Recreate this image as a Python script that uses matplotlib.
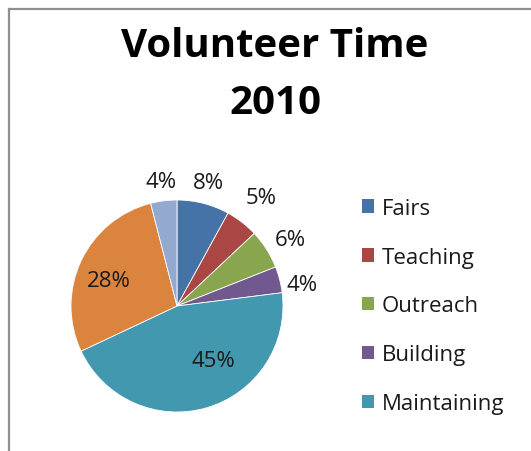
import numpy as np
import matplotlib
matplotlib.use("Agg")
import matplotlib.pyplot as plt
from matplotlib.lines import Line2D
from matplotlib.patches import Patch

# ---- data ----
title_lines = ["Volunteer Time", "2010"]
categories = ["Fairs", "Teaching", "Outreach", "Building", "Maintaining", "Other A", "Other B"]
shares = [8, 5, 6, 4, 45, 28, 4]
legend_shown = 5                     # only the first five fit in the legend box
colors = ["#4572A7", "#AA4643", "#89A54E", "#71588F", "#4198AF", "#DB843D", "#93A9CF"]
label_r = [1.2, 1.3, 1.24, 1.2, 0.62, 0.69, 1.18]    # label distance per slice
label_dang = [0, 0, -2, -4.5, 17, 5, 0]              # label angle nudge (deg)

W, H = 531, 452
fig = plt.figure(figsize=(W / 100, H / 100), dpi=100)
plt.rcParams["font.family"] = ["Open Sans", "DejaVu Sans"]

# chart-area border (left + top visible)
fig.add_artist(Line2D([8.5 / W, 8.5 / W], [0, 1 - 9.5 / H], transform=fig.transFigure,
                      color="#8f8f8f", lw=1.6))
fig.add_artist(Line2D([8.5 / W, 1], [1 - 9.5 / H, 1 - 9.5 / H], transform=fig.transFigure,
                      color="#8f8f8f", lw=1.6))

for line, base in zip(title_lines, [57, 114]):
    fig.text(275 / W, 1 - base / H, line, ha="center", va="baseline", fontsize=29,
             fontweight="bold", color="black")

# ---- pie ----
cx, cy, R = 177, 307, 106
ax = fig.add_axes([(cx - R) / W, (H - cy - R) / H, 2 * R / W, 2 * R / H])
wedges, _ = ax.pie(shares, colors=colors, startangle=90, counterclock=False, radius=1,
                   wedgeprops=dict(edgecolor="white", linewidth=0.6))
ax.set_xlim(-1, 1)
ax.set_ylim(-1, 1)
ax.set_aspect("equal")
ax.axis("off")

for w, v, r, da in zip(wedges, shares, label_r, label_dang):
    ang = np.deg2rad((w.theta1 + w.theta2) / 2 + da)
    ax.text(r * np.cos(ang), r * np.sin(ang), f"{v}%", ha="center", va="center",
            fontsize=16, color="#1a1a1a", clip_on=False)

# ---- legend ----
handles = [Patch(facecolor=colors[i], edgecolor="none") for i in range(legend_shown)]
fig.legend(handles, categories[:legend_shown], loc="center left",
           bbox_to_anchor=(342 / W, 1 - 307 / H), frameon=False, fontsize=16,
           handlelength=0.55, handleheight=0.55, handletextpad=0.35, labelspacing=1.25,
           labelcolor="#1a1a1a")

fig.savefig("out.png", dpi=100)
